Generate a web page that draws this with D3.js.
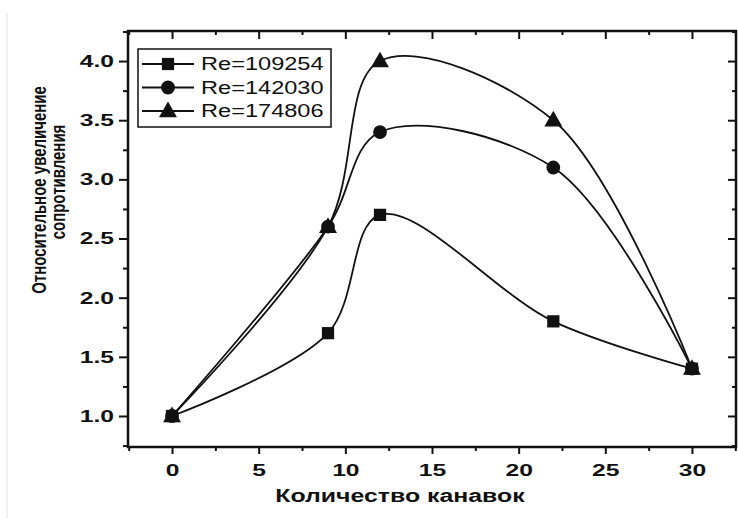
<!DOCTYPE html>
<html>
<head>
<meta charset="utf-8">
<script src="https://cdn.jsdelivr.net/npm/d3@7"></script>
<style>
  html, body { margin: 0; padding: 0; background: #fff; }
  svg { display: block; }
  text { font-family: "Liberation Sans", Arial, sans-serif; fill: #111; }
</style>
</head>
<body>
<svg id="chart" width="738" height="518"></svg>
<script>
// Number of grooves (x) and relative increase in resistance (y) per Reynolds number
const grooves = [0, 9, 12, 22, 30];
const re109254 = [1.0, 1.7, 2.7, 1.8, 1.4];
const re142030 = [1.0, 2.6, 3.4, 3.1, 1.4];
const re174806 = [1.0, 2.6, 4.0, 3.5, 1.4];
const seriesNames = ["Re=109254", "Re=142030", "Re=174806"];
const seriesShapes = ["square", "circle", "triangle"];
const xTicks = [0, 5, 10, 15, 20, 25, 30];
const yTicks = [1.0, 1.5, 2.0, 2.5, 3.0, 3.5, 4.0];
const xTitle = "Количество канавок";
const yTitleLines = ["Относительное увеличение", "сопротивления"];

const series = [re109254, re142030, re174806].map((vals, i) => ({
  name: seriesNames[i],
  shape: seriesShapes[i],
  points: grooves.map((g, j) => ({ x: g, y: vals[j] }))
}));

const svg = d3.select("#chart");
const plotLeft = 128, plotTop = 31, plotRight = 736, plotBottom = 447;

const x = d3.scaleLinear().domain([-2.54, 32.54]).range([plotLeft, plotRight]);
const y = d3.scaleLinear().domain([0.738, 4.254]).range([plotBottom, plotTop]);

// horizontally widen text glyphs by a factor
function widen(sel, k) {
  sel.each(function () {
    const len = this.getComputedTextLength();
    d3.select(this).attr("textLength", len * k).attr("lengthAdjust", "spacingAndGlyphs");
  });
}

// faint scan edge on the left
svg.append("line").attr("x1", 7).attr("x2", 7).attr("y1", 13).attr("y2", 518)
  .attr("stroke", "#f0f0f0").attr("stroke-width", 2);

const minorX = d3.range(-2.5, 33, 2.5).filter(v => v % 5 !== 0);
const minorY = d3.range(0.75, 4.26, 0.25).filter(v => Math.abs(v * 2 - Math.round(v * 2)) > 1e-6);

function tickGroup(axis, tx, ty) {
  const g = svg.append("g").attr("transform", `translate(${tx},${ty})`).call(axis);
  g.select(".domain").remove();
  g.selectAll(".tick line").attr("stroke", "#111").attr("stroke-width", 2);
  return g;
}

// bottom axis (ticks out)
const gx = tickGroup(d3.axisBottom(x).tickValues(xTicks).tickSize(7).tickPadding(10).tickFormat(d3.format("d")), 0, plotBottom);
gx.selectAll(".tick text").style("font-size", "17px").style("font-weight", "bold")
  .attr("fill", "#111").call(widen, 1.45);
tickGroup(d3.axisBottom(x).tickValues(minorX).tickSize(4).tickFormat(""), 0, plotBottom);

// left axis (ticks out)
const gy = tickGroup(d3.axisLeft(y).tickValues(yTicks).tickSize(9).tickPadding(5).tickFormat(d3.format(".1f")), plotLeft, 0);
gy.selectAll(".tick text").style("font-size", "17px").style("font-weight", "bold")
  .attr("fill", "#111").call(widen, 1.45);
tickGroup(d3.axisLeft(y).tickValues(minorY).tickSize(5).tickFormat(""), plotLeft, 0);

// top axis (ticks in)
tickGroup(d3.axisBottom(x).tickValues(xTicks).tickSize(8).tickFormat(""), 0, plotTop);
tickGroup(d3.axisBottom(x).tickValues(minorX).tickSize(4).tickFormat(""), 0, plotTop);

// right axis (ticks in)
tickGroup(d3.axisLeft(y).tickValues(yTicks).tickSize(8).tickFormat(""), plotRight, 0);
tickGroup(d3.axisLeft(y).tickValues(minorY).tickSize(4).tickFormat(""), plotRight, 0);

// frame
svg.append("rect").attr("x", plotLeft).attr("y", plotTop)
  .attr("width", plotRight - plotLeft).attr("height", plotBottom - plotTop)
  .attr("fill", "none").attr("stroke", "#111").attr("stroke-width", 2.5);

// smooth curves through the measured points
const line = d3.line().x(d => x(d.x)).y(d => y(d.y)).curve(d3.curveCatmullRom.alpha(0.5));
const plot = svg.append("g");
series.forEach(s => {
  plot.append("path").attr("d", line(s.points))
    .attr("fill", "none").attr("stroke", "#111").attr("stroke-width", 1.8);
});

const symbolOf = {
  square: d3.symbol().type(d3.symbolSquare).size(150),
  circle: d3.symbol().type(d3.symbolCircle).size(150),
  triangle: d3.symbol().type(d3.symbolTriangle).size(140)
};
series.forEach(s => {
  plot.selectAll(null).data(s.points).enter().append("path")
    .attr("d", symbolOf[s.shape]())
    .attr("transform", d => `translate(${x(d.x)},${y(d.y) + (s.shape === "triangle" ? 1 : 0)})`)
    .attr("fill", "#111");
});

// legend
const lg = svg.append("g");
lg.append("rect").attr("x", 138).attr("y", 49).attr("width", 193).attr("height", 78)
  .attr("fill", "#fff").attr("stroke", "#111").attr("stroke-width", 1.5);
series.forEach((s, i) => {
  const cy = 64 + i * 23.5;
  lg.append("line").attr("x1", 142).attr("x2", 194).attr("y1", cy).attr("y2", cy)
    .attr("stroke", "#111").attr("stroke-width", 1.8);
  lg.append("path").attr("d", symbolOf[s.shape]())
    .attr("transform", `translate(168,${cy + (s.shape === "triangle" ? 1 : 0)})`).attr("fill", "#111");
  lg.append("text").attr("x", 201).attr("y", cy).attr("dy", "0.36em")
    .style("font-size", "18px").text(s.name).call(widen, 1.31);
});

// axis titles
svg.append("text").attr("x", 400).attr("y", 502).attr("text-anchor", "middle")
  .style("font-size", "18px").style("font-weight", "bold").text(xTitle).call(widen, 1.38);

yTitleLines.forEach((t, i) => {
  const cx = i === 0 ? 46 : 65;
  svg.append("text")
    .attr("transform", `translate(${cx},${i === 0 ? 190 : 182}) rotate(-90) scale(1,1.35)`)
    .attr("text-anchor", "middle")
    .style("font-size", "15px").style("font-weight", "bold").text(t);
});
</script>
</body>
</html>
